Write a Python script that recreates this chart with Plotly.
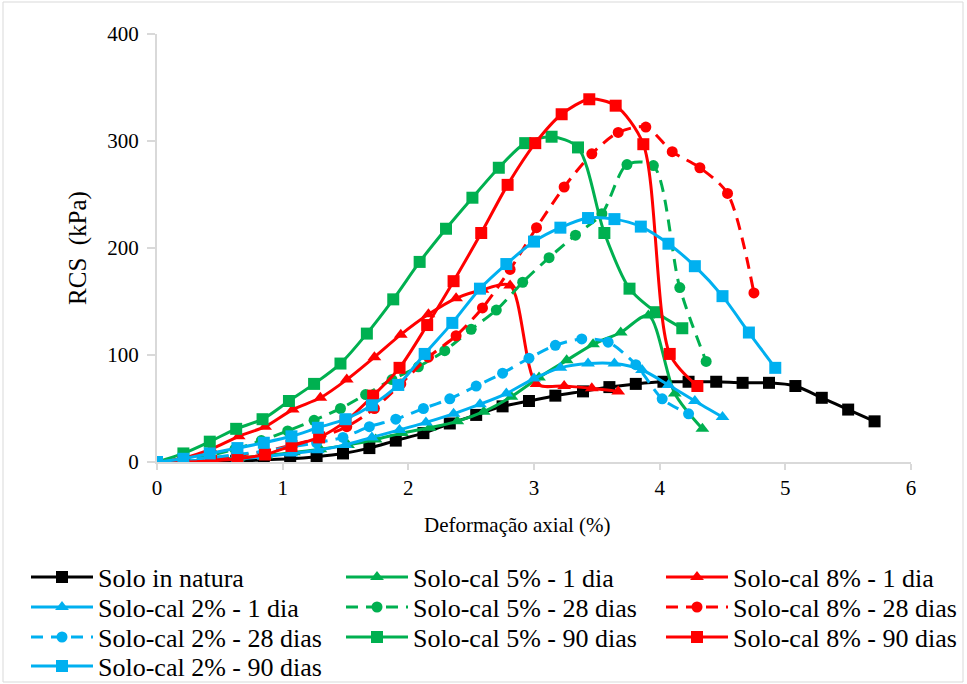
import plotly.graph_objects as go

# Axial strain (%) and unconfined compressive strength RCS (kPa) per mix
natura_x = [0, 0.21, 0.42, 0.63, 0.85, 1.06, 1.27, 1.48, 1.69, 1.90, 2.12, 2.33, 2.54, 2.75,
            2.96, 3.17, 3.39, 3.60, 3.81, 4.03, 4.23, 4.45, 4.66, 4.87, 5.08, 5.29, 5.50, 5.71]
natura_y = [0, 0, 1, 1, 2, 3, 5, 8, 13, 20, 27, 36, 44, 52,
            57, 62, 66, 70, 73, 75, 75, 75, 74, 74, 71, 60, 49, 38]

c2_1_x = [0, 0.21, 0.43, 0.64, 0.85, 1.07, 1.28, 1.50, 1.71, 1.93, 2.14, 2.36, 2.57, 2.78,
          3.00, 3.21, 3.43, 3.64, 3.86, 4.07, 4.28, 4.50]
c2_1_y = [0, 1, 2, 3, 5, 8, 11, 16, 23, 30, 37, 45, 54, 64,
          78, 88, 92, 92, 86, 72, 57, 42]

c2_28_x = [0, 0.21, 0.42, 0.63, 0.85, 1.06, 1.27, 1.48, 1.69, 1.90, 2.12, 2.33, 2.54, 2.75,
           2.96, 3.17, 3.38, 3.59, 3.81, 4.02, 4.23]
c2_28_y = [0, 2, 4, 7, 10, 14, 18, 23, 33, 40, 50, 59, 71, 83,
           97, 109, 115, 112, 91, 59, 45]

c2_90_x = [0, 0.21, 0.42, 0.64, 0.85, 1.07, 1.28, 1.50, 1.71, 1.92, 2.13, 2.35, 2.57, 2.78,
           3.00, 3.21, 3.43, 3.64, 3.85, 4.07, 4.28, 4.50, 4.71, 4.92]
c2_90_y = [0, 3, 8, 13, 18, 24, 32, 40, 53, 72, 101, 130, 162, 185,
           206, 219, 228, 227, 220, 204, 183, 155, 121, 88]

c5_1_x = [0, 0.22, 0.43, 0.65, 0.87, 1.09, 1.30, 1.52, 1.74, 1.95, 2.17, 2.39, 2.60, 2.82,
          3.04, 3.26, 3.47, 3.69, 3.91, 4.12, 4.34]
c5_1_y = [0, 1, 2, 4, 6, 9, 12, 16, 21, 27, 32, 38, 47, 61,
          79, 95, 110, 121, 137, 64, 31]

c5_28_x = [0, 0.21, 0.42, 0.62, 0.83, 1.04, 1.25, 1.46, 1.66, 1.87, 2.08, 2.29, 2.50, 2.70,
           2.91, 3.12, 3.33, 3.54, 3.74, 3.95, 4.16, 4.37]
c5_28_y = [0, 2, 6, 12, 20, 29, 39, 50, 63, 77, 89, 104, 124, 142,
           168, 191, 212, 232, 278, 277, 163, 94]

c5_90_x = [0, 0.21, 0.42, 0.63, 0.84, 1.05, 1.25, 1.46, 1.67, 1.88, 2.09, 2.30, 2.51, 2.72,
           2.93, 3.14, 3.35, 3.56, 3.76, 3.97, 4.18]
c5_90_y = [0, 8, 19, 31, 40, 57, 73, 92, 120, 152, 187, 218, 247, 275,
           298, 304, 294, 214, 162, 140, 125]

c8_1_x = [0, 0.22, 0.43, 0.65, 0.86, 1.08, 1.30, 1.51, 1.73, 1.94, 2.16, 2.38, 2.59, 2.81,
          3.02, 3.24, 3.46, 3.67]
c8_1_y = [0, 4, 12, 24, 33, 49, 60, 77, 98, 119, 138, 153, 161, 165,
          73, 71, 69, 66]

c8_28_x = [0, 0.22, 0.43, 0.65, 0.86, 1.08, 1.30, 1.51, 1.73, 1.94, 2.16, 2.38, 2.59, 2.81,
           3.02, 3.24, 3.46, 3.67, 3.89, 4.10, 4.32, 4.54, 4.75]
c8_28_y = [0, 1, 3, 6, 10, 16, 23, 33, 50, 73, 98, 118, 144, 180,
           219, 257, 288, 308, 313, 290, 275, 251, 158]

c8_90_x = [0, 0.21, 0.43, 0.64, 0.86, 1.07, 1.29, 1.50, 1.72, 1.93, 2.15, 2.36, 2.58, 2.79,
           3.01, 3.22, 3.44, 3.65, 3.87, 4.08, 4.30]
c8_90_y = [0, 0, 1, 3, 7, 15, 23, 38, 62, 88, 128, 169, 214, 259,
           298, 325, 339, 333, 297, 101, 71]

x_ticks = [0, 1, 2, 3, 4, 5, 6]
y_ticks = [0, 100, 200, 300, 400]

BLACK = "#000000"
GREEN = "#00B050"
RED = "#FF0000"
BLUE = "#00B0F0"

FONT = '"Liberation Serif", "Times New Roman", serif'
W, H = 967, 684

# (name, x, y, colour, marker symbol, dashed, legend row, legend column)
series = [
    ("Solo in natura", natura_x, natura_y, BLACK, "square", False, 0, 0),
    ("Solo-cal 5% - 1 dia", c5_1_x, c5_1_y, GREEN, "triangle-up", False, 0, 1),
    ("Solo-cal 8% - 1 dia", c8_1_x, c8_1_y, RED, "triangle-up", False, 0, 2),
    ("Solo-cal 2% - 1 dia", c2_1_x, c2_1_y, BLUE, "triangle-up", False, 1, 0),
    ("Solo-cal 5% - 28 dias", c5_28_x, c5_28_y, GREEN, "circle", True, 1, 1),
    ("Solo-cal 8% - 28 dias", c8_28_x, c8_28_y, RED, "circle", True, 1, 2),
    ("Solo-cal 2% - 28 dias", c2_28_x, c2_28_y, BLUE, "circle", True, 2, 0),
    ("Solo-cal 5% - 90 dias", c5_90_x, c5_90_y, GREEN, "square", False, 2, 1),
    ("Solo-cal 8% - 90 dias", c8_90_x, c8_90_y, RED, "square", False, 2, 2),
    ("Solo-cal 2% - 90 dias", c2_90_x, c2_90_y, BLUE, "square", False, 3, 0),
]

# Legend grid below the plot (pixel positions of each row centre / text start)
LEG_FONT = 26
LEG_ITEMWIDTH = 62
row_centres = [577, 607, 637, 666]
col_text_x = [98, 413, 733]

fig = go.Figure()
legends = {}
for i, (name, xs, ys, col, sym, dashed, r, c) in enumerate(series):
    key = "legend" if i == 0 else f"legend{i + 1}"
    size = 11 if sym == "circle" else 12
    fig.add_trace(go.Scatter(
        x=xs, y=ys, name=name, mode="lines+markers", legend=key,
        line=dict(color=col, width=3, shape="spline", smoothing=0.8,
                  dash="12px,8px" if dashed else "solid"),
        marker=dict(symbol=sym, size=size, color=col, line=dict(width=0)),
    ))
    item_h = LEG_FONT * 1.3 + 3
    left = col_text_x[c] - (LEG_ITEMWIDTH + 10)
    top = row_centres[r] - item_h / 2 - 5
    legends[key] = dict(
        orientation="h", xref="container", yref="container",
        x=left / W, xanchor="left", y=1 - top / H, yanchor="top",
        font=dict(family=FONT, size=LEG_FONT, color="black"),
        itemwidth=LEG_ITEMWIDTH, bgcolor="rgba(0,0,0,0)", borderwidth=0,
    )

axis_line = "#D9D9D9"

fig.update_layout(
    width=W, height=H,
    margin=dict(l=157, r=56, t=34, b=222),
    paper_bgcolor="white", plot_bgcolor="white",
    font=dict(family=FONT, size=21, color="black"),
    xaxis=dict(
        range=[0, 6], tickvals=x_ticks, ticktext=[str(v) for v in x_ticks],
        showgrid=False, zeroline=False, showline=True, linecolor=axis_line, linewidth=2,
        ticks="outside", ticklen=6, tickcolor=axis_line, tickwidth=2,
        tickfont=dict(family=FONT, size=21),
    ),
    yaxis=dict(
        range=[0, 400], tickvals=y_ticks, ticktext=[str(v) for v in y_ticks],
        showgrid=False, zeroline=False, showline=True, linecolor=axis_line, linewidth=2,
        ticks="outside", ticklen=8, tickcolor=axis_line, tickwidth=2, ticklabelstandoff=4,
        title=dict(text="RCS  (kPa)", font=dict(family=FONT, size=25), standoff=14),
        tickfont=dict(family=FONT, size=21),
    ),
    showlegend=True,
    **legends,
)

# x-axis caption, placed a little left of the plot centre as in the source layout
fig.add_annotation(
    text="Deformação axial (%)", xref="paper", yref="paper",
    x=(517 - 157) / 754, y=(462 - 525) / 428, xanchor="center", yanchor="middle",
    showarrow=False, font=dict(family=FONT, size=21, color="black"),
)

# Chart-area frame around the whole figure
fig.add_shape(type="rect", xref="paper", yref="paper",
              x0=(3 - 157) / 754, x1=(963 - 157) / 754,
              y0=(462 - 682) / 428, y1=(462 - 2) / 428,
              line=dict(color=axis_line, width=1), fillcolor="rgba(0,0,0,0)", layer="below")

fig.write_html("out.html")
